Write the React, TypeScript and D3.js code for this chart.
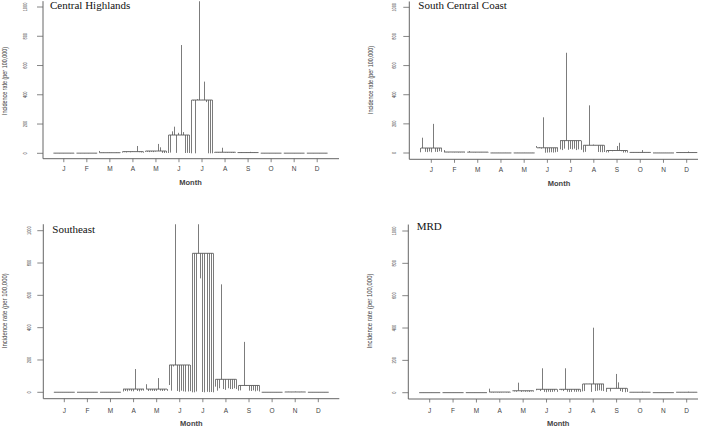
import React from "react";
import * as d3 from "d3";

const monthLabels = ["J", "F", "M", "A", "M", "J", "J", "A", "S", "O", "N", "D"];
const yTicks = [0, 200, 400, 600, 800, 1000];
const regionNames = ["Central Highlands", "South Central Coast", "Southeast", "MRD"];

// incidence per 100,000: one row per month, one value per year
const centralHighlands = [
  [1, 2, 1, 0, 1, 2, 1, 1, 0, 1, 2],
  [1, 1, 2, 1, 0, 1, 2, 1, 1, 0, 1],
  [16, 3, 2, 4, 3, 2, 3, 4, 2, 3, 2],
  [5, 8, 6, 10, 7, 9, 12, 50, 8, 6, 4],
  [10, 10, 8, 10, 8, 12, 64, 41, 3, 2, 3],
  [2, 5, 150, 182, 3, 140, 740, 145, 2, 3, 2],
  [0, 360, 0, 370, 2069, 365, 490, 350, 0, 0, 0],
  [3, 5, 4, 6, 38, 5, 4, 6, 3, 2, 4],
  [3, 4, 8, 5, 3, 6, 10, 4, 3, 5, 4],
  [1, 1, 0, 1, 2, 1, 1, 0, 1, 1, 1],
  [1, 0, 1, 1, 1, 2, 1, 1, 0, 1, 1],
  [1, 1, 1, 0, 1, 1, 2, 1, 1, 0, 1],
];

const southCentralCoast = [
  [5, 105, 8, 6, 10, 5, 200, 8, 7, 12, 8],
  [20, 6, 5, 7, 6, 5, 6, 4, 5, 6, 5],
  [5, 13, 6, 5, 4, 6, 5, 7, 6, 5, 4],
  [0, 1, 0, 0, 1, 0, 0, 1, 0, 0, 0],
  [0, 0, 1, 0, 0, 1, 0, 0, 0, 1, 0],
  [48, 40, 30, 245, 2, 3, 4, 5, 3, 5, 8],
  [25, 20, 30, 688, 22, 28, 25, 30, 20, 25, 22],
  [5, 8, 55, 327, 53, 58, 52, 7, 6, 5, 7],
  [4, 4, 14, 12, 14, 48, 70, 12, 3, 4, 3],
  [2, 3, 2, 3, 2, 3, 20, 2, 3, 2, 2],
  [0, 1, 0, 1, 0, 0, 1, 0, 0, 1, 0],
  [2, 3, 2, 3, 2, 3, 10, 3, 2, 3, 2],
];

const southeast = [
  [0, 1, 0, 0, 1, 0, 0, 1, 0, 0, 1],
  [0, 0, 1, 0, 0, 1, 0, 0, 1, 0, 0],
  [1, 0, 0, 1, 0, 0, 1, 0, 0, 1, 0],
  [5, 8, 6, 10, 7, 6, 144, 8, 6, 10, 10],
  [50, 8, 10, 9, 8, 9, 88, 10, 8, 9, 9],
  [45, 10, 160, 1601, 8, 3, 10, 6, 4, 5, 7],
  [0, 0, 5, 8742, 705, 2, 0, 3, 1, 2, 0],
  [35, 10, 25, 668, 20, 15, 25, 20, 20, 25, 20],
  [10, 12, 41, 312, 40, 10, 8, 12, 6, 10, 5],
  [0, 1, 0, 0, 1, 0, 0, 1, 0, 0, 0],
  [1, 2, 3, 1, 2, 4, 2, 1, 3, 2, 1],
  [0, 0, 1, 0, 0, 1, 0, 0, 1, 0, 0],
];

const mrd = [
  [0, 0, 1, 0, 0, 0, 1, 0, 0, 0, 0],
  [0, 1, 0, 0, 0, 1, 0, 0, 0, 1, 0],
  [1, 0, 0, 0, 1, 0, 0, 0, 1, 0, 0],
  [25, 2, 1, 3, 2, 1, 2, 3, 2, 1, 2],
  [10, 8, 6, 62, 5, 8, 6, 7, 5, 8, 7],
  [15, 20, 10, 151, 5, 3, 6, 4, 5, 7, 5],
  [18, 15, 10, 151, 6, 4, 5, 6, 5, 7, 4],
  [8, 10, 55, 55, 5, 402, 10, 12, 15, 12, 10],
  [5, 27, 8, 27, 27, 116, 64, 10, 5, 3, 5],
  [2, 3, 2, 3, 2, 3, 6, 3, 2, 3, 2],
  [0, 1, 0, 0, 1, 0, 0, 1, 0, 0, 0],
  [2, 3, 2, 3, 2, 3, 6, 3, 2, 3, 2],
];

const panels = [
  { id: "p1", name: regionNames[0], data: centralHighlands, jx: 63.8, dx: 317.2, y0: 153.3, y1000: 7.0, axL: 43, axB: 158.7, axR: 339, titleX: 50, titleY: 9, labY: 170.6, monthY: 184.9, tickLabX: 25, yTitleX: 5, yTitleY: 81, yTitleLen: 68 },
  { id: "p2", name: regionNames[1], data: southCentralCoast, jx: 431.3, dx: 686.7, y0: 153.0, y1000: 7.3, axL: 409.3, axB: 159.3, axR: 698, titleX: 418.3, titleY: 9, labY: 171.6, monthY: 185.6, tickLabX: 394.3, yTitleX: 371, yTitleY: 80, yTitleLen: 68 },
  { id: "p3", name: regionNames[2], data: southeast, jx: 64.3, dx: 318.3, y0: 392.3, y1000: 230.7, axL: 43.3, axB: 398.7, axR: 339.3, titleX: 52.3, titleY: 233, labY: 413, monthY: 426.2, tickLabX: 29.3, yTitleX: 5, yTitleY: 310.7, yTitleLen: 75 },
  { id: "p4", name: regionNames[3], data: mrd, jx: 429.7, dx: 686.7, y0: 392.7, y1000: 231, axL: 408.3, axB: 399, axR: 698, titleX: 416.7, titleY: 230, labY: 413, monthY: 426.2, tickLabX: 394.3, yTitleX: 370, yTitleY: 311, yTitleLen: 75 },
];

const LINE = "#5a5a5a";
const AXIS = "#666";
const TEXT = "#444";
const SANS = "'Liberation Sans', Arial, sans-serif";
const SERIF = "'Liberation Serif', 'Times New Roman', serif";

const crisp = (v: number) => Math.round(v - 0.5) + 0.5;

function Panel({ p }: { p: any }) {
  const x = d3.scaleLinear().domain([1, 12]).range([p.jx, p.dx]);
  const y = d3.scaleLinear().domain([0, 1000]).range([p.y0, p.y1000]);
  const top = y(1040);
  const segs: any[] = [];
  const bases: any[] = [];
  p.data.forEach((vals: number[], mi: number) => {
    const m = mi + 1;
    const n = vals.length;
    const base = d3.mean(vals) as number;
    const pos = d3.scaleLinear().domain([0, n - 1]).range([m - 0.45, m + 0.45]);
    bases.push({ x1: x(m - 0.45), x2: x(m + 0.45), y: y(base), key: mi });
    vals.forEach((v, j) => {
      segs.push({ x: crisp(x(pos(j))), y1: y(base), y2: y(v), key: mi + "-" + j });
    });
  });
  return (
    <g>
      <defs>
        <clipPath id={"clip-" + p.id}>
          <rect x={p.axL} y={top} width={p.axR - p.axL} height={p.axB - top} />
        </clipPath>
      </defs>
      <g clipPath={`url(#clip-${p.id})`}>
        {segs.map((s) => (
          <line key={s.key} x1={s.x} x2={s.x} y1={s.y1} y2={s.y2} stroke={LINE} strokeWidth={0.8} />
        ))}
        {bases.map((b) => (
          <line key={b.key} x1={b.x1} x2={b.x2} y1={b.y} y2={b.y} stroke={LINE} strokeWidth={0.9} />
        ))}
      </g>
      <path d={`M${p.axL},${top}V${p.axB}H${p.axR}`} fill="none" stroke={AXIS} strokeWidth={1} />
      {yTicks.map((t) => (
        <g key={t}>
          <line x1={p.axL - 6} x2={p.axL} y1={y(t)} y2={y(t)} stroke={AXIS} strokeWidth={0.8} />
          <text
            transform={`translate(${p.tickLabX + 2.1},${y(t)}) scale(1,0.65) rotate(-90)`}
            textAnchor="middle"
            fontFamily={SANS}
            fontSize={6}
            fill={TEXT}
          >
            {t}
          </text>
        </g>
      ))}
      {monthLabels.map((lab, i) => (
        <g key={i}>
          <line x1={x(i + 1)} x2={x(i + 1)} y1={p.axB} y2={p.axB + 3.5} stroke={AXIS} strokeWidth={0.8} />
          <text x={x(i + 1)} y={p.labY} textAnchor="middle" fontFamily={SANS} fontSize={6.5} fill={TEXT}>
            {lab}
          </text>
        </g>
      ))}
      <text x={(p.jx + p.dx) / 2} y={p.monthY} textAnchor="middle" fontFamily={SANS} fontWeight="bold" fontSize={7.5} fill={TEXT}>
        Month
      </text>
      <text
        transform={`translate(${p.yTitleX + 2.3},${p.yTitleY}) rotate(-90)`}
        textAnchor="middle"
        fontFamily={SANS}
        fontSize={6.5}
        fill={TEXT}
        textLength={p.yTitleLen}
        lengthAdjust="spacingAndGlyphs"
      >
        Incidence rate (per 100,000)
      </text>
      <text x={p.titleX} y={p.titleY} fontFamily={SERIF} fontSize={11} fill="#111">
        {p.name}
      </text>
    </g>
  );
}

export default function App() {
  return (
    <svg
      width={709}
      height={428}
      viewBox="0 0 709 428"
      style={{ position: "absolute", left: 0, top: 0, background: "#fff" }}
    >
      <rect x={0} y={0} width={709} height={428} fill="#fff" />
      {panels.map((p) => (
        <Panel key={p.id} p={p} />
      ))}
    </svg>
  );
}
